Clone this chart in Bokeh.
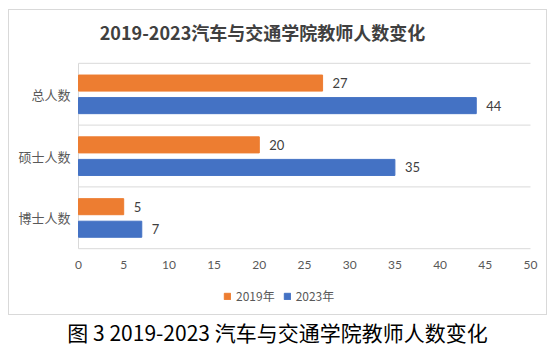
from bokeh.plotting import figure
from bokeh.models import (ColumnDataSource, FactorRange, Range1d, Title, Label,
                          Legend, LegendItem)
from bokeh.transform import dodge
from bokeh.core.properties import value
from bokeh.embed import file_html
from bokeh.resources import INLINE

categories = ["总人数", "硕士人数", "博士人数"]
y2019 = [27, 20, 5]
y2023 = [44, 35, 7]
series_names = ["2019年", "2023年"]
x_ticks = [0, 5, 10, 15, 20, 25, 30, 35, 40, 45, 50]
title_text = "2019-2023汽车与交通学院教师人数变化"
caption_text = "图 3 2019-2023 汽车与交通学院教师人数变化"

CJK = "Noto Sans CJK SC"
NUM = "Lato"
ORANGE = "#ED7D31"
BLUE = "#4472C4"
GRID = "#D9D9D9"
LABEL = "#595959"

# layout (pixels): page 554 wide, plotting area x 78..530, category bands y 63..249
W, H = 554, 349
AREA_L, AREA_R, AREA_T, AREA_B = 78, 530, 63, 249
FRAME_B = AREA_B + AREA_T           # symmetric padding around the category bands
px_per_unit = (AREA_R - AREA_L) / (x_ticks[-1] - x_ticks[0])
band_px = (AREA_B - AREA_T) / len(categories)
pad_units = AREA_T / band_px

src = ColumnDataSource(dict(cat=categories, v19=y2019, v23=y2023,
                            t19=[str(v) for v in y2019], t23=[str(v) for v in y2023],
                            x0=[x_ticks[0]] * 3, x1=[x_ticks[-1]] * 3))
tick_src = ColumnDataSource(dict(x=x_ticks, lab=[str(t) for t in x_ticks],
                                 cat=[categories[-1]] * len(x_ticks)))
edge_src = ColumnDataSource(dict(x0=[x_ticks[0]], x1=[x_ticks[-1]],
                                 bot=[categories[-1]], top=[categories[0]]))

p = figure(width=W, height=H, output_backend="svg", toolbar_location=None,
           y_range=FactorRange(factors=categories[::-1], range_padding=pad_units,
                               range_padding_units="absolute"),
           x_range=Range1d(x_ticks[0] - AREA_L / px_per_unit,
                           x_ticks[0] + (W - AREA_L) / px_per_unit),
           min_border_left=0, min_border_right=0, min_border_top=0,
           min_border_bottom=H - FRAME_B)
p.title.visible = False
p.axis.visible = False
p.grid.visible = False
p.outline_line_color = None
p.background_fill_color = "white"
p.border_fill_color = "white"
p.stylesheets = [":host { position: relative; } "
                 ":host::after { content: ''; position: absolute; left: 8px; top: 9px; "
                 "width: 539px; height: 306px; border: 1px solid #D9D9D9; "
                 "box-sizing: border-box; pointer-events: none; z-index: 10; }"]

# category separators and axis line
p.segment(x0="x0", x1="x1", y0=dodge("cat", 0.5, range=p.y_range),
          y1=dodge("cat", 0.5, range=p.y_range), source=src, line_color=GRID, line_width=1)
p.segment(x0="x0", x1="x1", y0=dodge("bot", -0.5, range=p.y_range),
          y1=dodge("bot", -0.5, range=p.y_range), source=edge_src, line_color=GRID, line_width=1)
p.segment(x0="x0", x1="x0", y0=dodge("bot", -0.5, range=p.y_range),
          y1=dodge("top", 0.5, range=p.y_range), source=edge_src, line_color=GRID, line_width=1)

r19 = p.hbar(y=dodge("cat", 0.18, range=p.y_range), right="v19", left=0, height=0.26,
             source=src, color=ORANGE)
r23 = p.hbar(y=dodge("cat", -0.185, range=p.y_range), right="v23", left=0, height=0.26,
             source=src, color=BLUE)

p.text(x="v19", y=dodge("cat", 0.18, range=p.y_range), text="t19", source=src,
       x_offset=10, text_baseline="middle", text_align="left",
       text_font=value(NUM), text_font_size="13px", text_color="#404040")
p.text(x="v23", y=dodge("cat", -0.185, range=p.y_range), text="t23", source=src,
       x_offset=10, text_baseline="middle", text_align="left",
       text_font=value(NUM), text_font_size="13px", text_color="#404040")

# category labels (vertical axis)
p.text(x="x0", y="cat", text="cat", source=src, x_offset=-8,
       text_baseline="middle", text_align="right",
       text_font=value(CJK), text_font_size="13px", text_color=LABEL)

# value axis tick labels
p.text(x="x", y=dodge("cat", -0.5, range=p.y_range), text="lab", source=tick_src,
       y_offset=16, text_baseline="middle", text_align="center",
       text_font=value(NUM), text_font_size="12px", text_color=LABEL)

# chart title inside the bordered box
p.add_layout(Label(x=262, y=FRAME_B - 32, x_units="screen", y_units="screen",
                   text=title_text, text_align="center", text_baseline="middle",
                   text_font=CJK, text_font_size="18px", text_font_style="bold",
                   text_color="#404040"))

legend = Legend(items=[LegendItem(label=series_names[0], renderers=[r19]),
                       LegendItem(label=series_names[1], renderers=[r23])],
                location=(223, 7), orientation="horizontal",
                glyph_width=8, glyph_height=8, label_standoff=5, spacing=8,
                padding=0, margin=0, border_line_color=None, background_fill_alpha=0,
                label_text_font=CJK, label_text_font_size="12px", label_text_color=LABEL)
p.add_layout(legend, "center")

caption = Title(text=caption_text, align="center", standoff=6,
                text_font=CJK, text_font_size="21px", text_font_style="normal",
                text_color="#000000")
p.add_layout(caption, "below")

open("out.html", "w").write(file_html(p, INLINE))
